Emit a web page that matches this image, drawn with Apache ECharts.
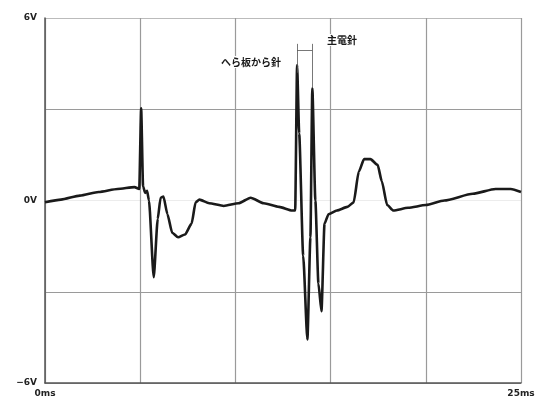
<!DOCTYPE html>
<html>
<head>
<meta charset="utf-8">
<script src="https://cdn.jsdelivr.net/npm/echarts@6/dist/echarts.min.js"></script>
<style>
  html, body { margin: 0; padding: 0; background: #fff; }
  #chart { width: 542px; height: 405px; }
</style>
</head>
<body>
<div id="chart"></div>
<script>
// 時間 (ms)
const timeMs = [
  0, 0.84, 1.83, 2.82, 3.81, 4.70, 4.95, 5.05, 5.15, 5.26,
  5.36, 5.46, 5.71, 5.92, 6.07, 6.22, 6.43, 6.68, 6.99, 7.35,
  7.70, 7.91, 8.11, 8.62, 9.39, 10.16, 10.80, 11.49, 12.29, 12.98,
  13.14, 13.24, 13.35, 13.56, 13.78, 13.94, 14.04, 14.20, 14.36, 14.52,
  14.68, 14.89, 15.33, 15.88, 16.21, 16.48, 16.76, 17.09, 17.47, 17.69,
  17.97, 18.30, 19.07, 20.00, 20.97, 22.47, 23.66, 24.46, 25.00
];
// 電圧 (V)
const voltV = [
  -0.06, 0.03, 0.16, 0.28, 0.38, 0.44, 0.38, 3.03, 0.47, 0.25,
  0.32, 0.00, -2.52, -0.61, 0.09, 0.13, -0.45, -1.06, -1.21, -1.12,
  -0.76, -0.06, 0.03, -0.09, -0.18, -0.09, 0.09, -0.09, -0.21, -0.33,
  -0.33, 4.45, 2.21, -1.82, -4.57, -1.21, 3.69, 0.00, -2.73, -3.64,
  -0.76, -0.45, -0.33, -0.21, -0.06, 0.95, 1.36, 1.36, 1.17, 0.63,
  -0.15, -0.33, -0.24, -0.15, 0.00, 0.22, 0.38, 0.38, 0.28
];
// 目盛ラベル
const yTickLabels = { '6': '6V', '0': '0V', '-6': '−6V' };
const xTickLabels = { '0': '0ms', '25': '25ms' };
// 注記
const noteLeft = 'へら板から針';
const noteRight = '主電針';
const spikeTimes = [13.24, 14.04];

const chart = echarts.init(document.getElementById('chart'));

const trace = timeMs.map((t, i) => [t, voltV[i]]);

chart.setOption({
  animation: false,
  backgroundColor: '#fff',
  grid: { left: 45, right: 21, top: 18, bottom: 22 },
  xAxis: {
    type: 'value',
    min: 0,
    max: 25,
    interval: 5,
    axisLine: { show: true, onZero: false, lineStyle: { color: '#555', width: 1.5 } },
    axisTick: { show: false },
    axisLabel: {
      margin: 6,
      fontSize: 9,
      fontWeight: 'bold',
      fontFamily: 'DejaVu Sans',
      color: '#222',
      formatter: v => xTickLabels[String(v)] || ''
    },
    splitLine: { show: true, lineStyle: { color: '#9a9a9a', width: 1.2 } }
  },
  yAxis: {
    type: 'value',
    min: -6,
    max: 6,
    interval: 3,
    axisLine: { show: true, onZero: false, lineStyle: { color: '#555', width: 1.5 } },
    axisTick: { show: false },
    axisLabel: {
      margin: 8,
      fontSize: 9,
      fontWeight: 'bold',
      fontFamily: 'DejaVu Sans',
      color: '#222',
      formatter: v => yTickLabels[String(v)] || ''
    },
    splitLine: {
      show: true,
      lineStyle: { color: ['#9a9a9a', '#9a9a9a', '#ececec', '#9a9a9a', '#bbbbbb'], width: 1.2 }
    }
  },
  series: [{
    type: 'line',
    data: trace,
    showSymbol: false,
    smooth: 0.2,
    smoothMonotone: 'x',
    lineStyle: { color: '#1a1a1a', width: 2.6 },
    markLine: {
      silent: true,
      symbol: 'none',
      label: { show: false },
      lineStyle: { color: '#555', width: 0.8, type: 'solid' },
      data: [
        [{ coord: [spikeTimes[0], 4.2] }, { coord: [spikeTimes[0], 5.15] }],
        [{ coord: [spikeTimes[1], 3.7] }, { coord: [spikeTimes[1], 5.15] }],
        [{ coord: [spikeTimes[0], 4.95] }, { coord: [spikeTimes[1], 4.95] }]
      ]
    }
  }],
  graphic: [
    {
      type: 'text',
      left: 220,
      top: 56,
      z: 100,
      style: {
        text: noteLeft,
        font: 'bold 10px "Noto Sans CJK JP"',
        fill: '#1a1a1a',
        backgroundColor: '#fff',
        padding: [1, 1]
      }
    },
    {
      type: 'text',
      left: 326,
      top: 34,
      z: 100,
      style: {
        text: noteRight,
        font: 'bold 10px "Noto Sans CJK JP"',
        fill: '#1a1a1a',
        backgroundColor: '#fff',
        padding: [1, 1]
      }
    }
  ]
});
</script>
</body>
</html>
